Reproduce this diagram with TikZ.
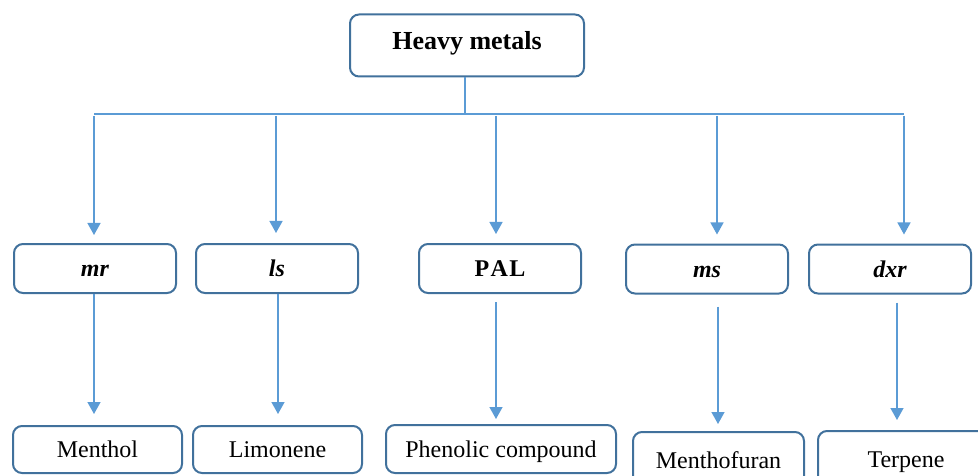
\documentclass[tikz,border=0pt]{standalone}
\usepackage{fontspec}
\setmainfont{Liberation Serif}
\usetikzlibrary{arrows.meta}
\definecolor{boxline}{HTML}{41719C}
\definecolor{arrowline}{HTML}{5B9BD5}
\begin{document}
\begin{tikzpicture}[x=1pt,y=-1pt,
  box/.style={draw=boxline, line width=2pt, rounded corners=9pt, fill=white,
              inner sep=0pt, align=center, text height=16pt, text depth=0pt,
              font=\fontsize{24}{28}\selectfont},
  midbox/.style={box, minimum width=162pt, minimum height=49pt},
  conn/.style={draw=arrowline, line width=1.4pt},
  arr/.style={conn, -{Triangle[width=13pt,length=12pt]}}]
\useasboundingbox (0,0) rectangle (978,476);
\clip (0,0) rectangle (978,476);

% root
\node[box, minimum width=234pt, minimum height=62pt, text depth=8pt,
      font=\bfseries\fontsize{26}{30}\selectfont] (hm) at (467,45.5) {Heavy metals};

% middle row
\node[midbox, font=\bfseries\itshape\fontsize{24}{28}\selectfont] (mr)  at (95,268.5)  {mr};
\node[midbox, font=\bfseries\itshape\fontsize{24}{28}\selectfont] (ls)  at (277,268.5) {ls};
\node[midbox, font=\bfseries\fontsize{24}{28}\selectfont]         (pal) at (500,268.5) {P\kern1.5pt A\kern1.5pt L};
\node[midbox, font=\bfseries\itshape\fontsize{24}{28}\selectfont] (ms)  at (707,269)   {ms};
\node[midbox, font=\bfseries\itshape\fontsize{24}{28}\selectfont] (dxr) at (890,269)   {dxr};

% bottom row
\node[box, minimum width=169pt, minimum height=47pt] (menthol)  at (97.5,449.5)  {Menthol};
\node[box, minimum width=169pt, minimum height=47pt] (limonene) at (277.5,449.5) {Limonene};
\node[box, minimum width=230pt, minimum height=48pt] (phenolic) at (501,449)     {Phenolic compound};
\node[box, minimum width=171pt, minimum height=56pt] (mfuran)   at (718.5,460)   {Menthofuran};
\node[box, minimum width=176pt, minimum height=56pt] (terpene)  at (906,459)     {Terpene};

% bus from the root
\coordinate (hub)  at (465,114);
\coordinate (busL) at (94,114);
\coordinate (busR) at (904,114);
\draw[conn] (hm.south -| hub) -- (hub);
\draw[conn] (busL) -- (busR);

\coordinate (t1) at (94,116);
\coordinate (t2) at (276,116);
\coordinate (t3) at (496,116);
\coordinate (t4) at (717,116);
\coordinate (t5) at (904,116);
\draw[arr, shorten >=8pt]  (t1) -- (mr.north -| t1);
\draw[arr, shorten >=10pt] (t2) -- (ls.north -| t2);
\draw[arr, shorten >=9pt]  (t3) -- (pal.north -| t3);
\draw[arr, shorten >=9pt]  (t4) -- (ms.north -| t4);
\draw[arr, shorten >=9pt]  (t5) -- (dxr.north -| t5);

% lower links
\coordinate (l1) at (94,0);
\coordinate (l2) at (278,0);
\coordinate (l3) at (496,0);
\coordinate (l4) at (718,0);
\coordinate (l5) at (897,0);
\draw[arr, shorten >=11pt]                (mr.south -| l1)  -- (menthol.north -| l1);
\draw[arr, shorten >=11pt]                (ls.south -| l2)  -- (limonene.north -| l2);
\draw[arr, shorten <=8pt, shorten >=5pt]  (pal.south -| l3) -- (phenolic.north -| l3);
\draw[arr, shorten <=12pt, shorten >=7pt] (ms.south -| l4)  -- (mfuran.north -| l4);
\draw[arr, shorten <=8pt, shorten >=10pt] (dxr.south -| l5) -- (terpene.north -| l5);
\end{tikzpicture}
\end{document}
